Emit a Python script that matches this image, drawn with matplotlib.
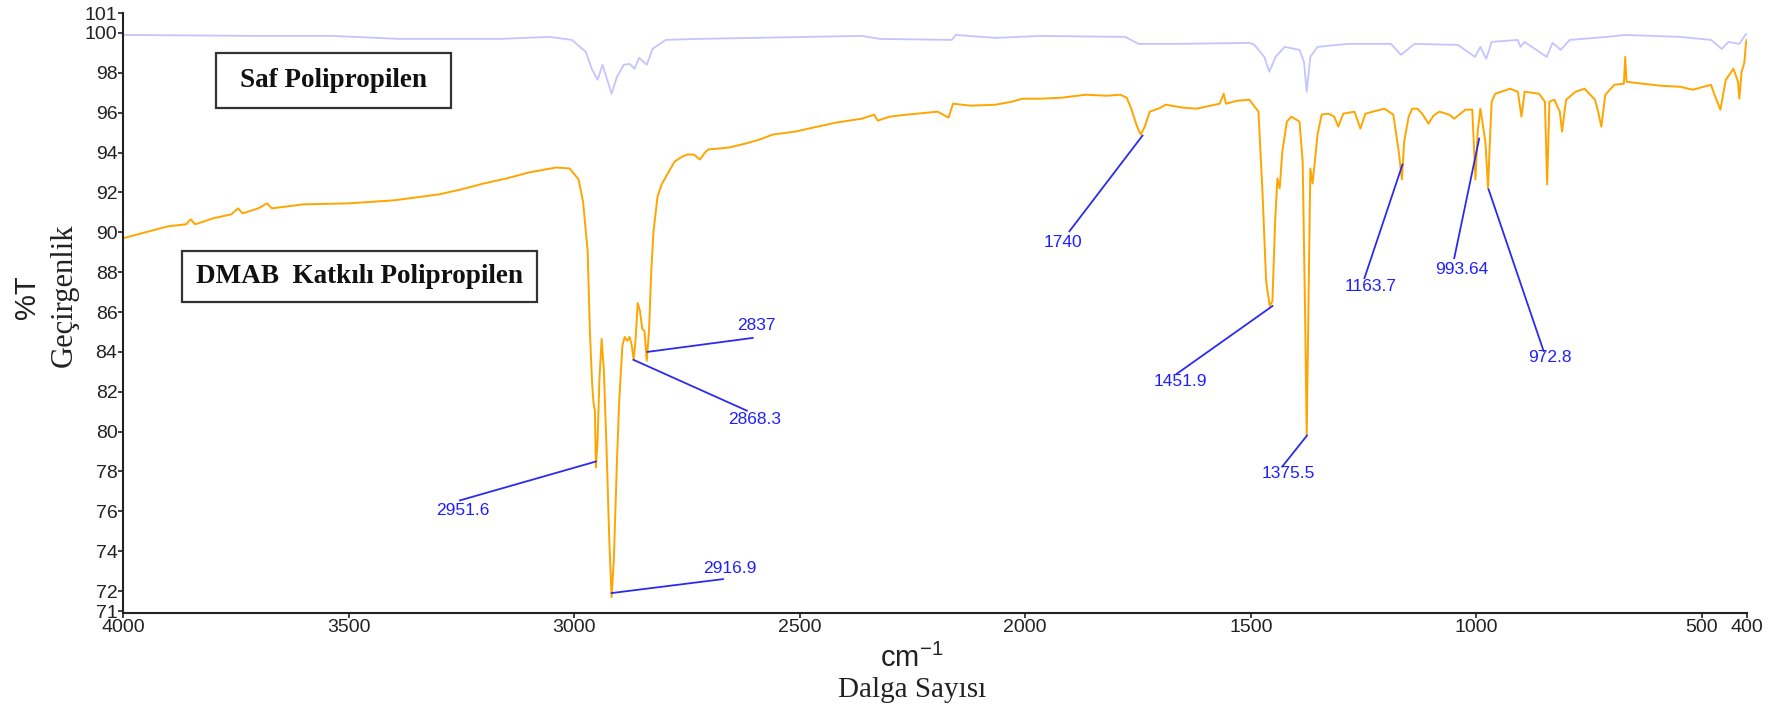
import matplotlib
matplotlib.use("Agg")
import matplotlib.pyplot as plt
from matplotlib.patches import Rectangle

# --- Saf Polipropilen (pure PP) spectrum ---
saf_wn = [4000, 3700, 3535, 3386, 3165, 3054, 3005, 2974, 2961, 2948, 2937, 2917,
          2905, 2890, 2877, 2866, 2856, 2839, 2826, 2797, 2728, 2362, 2322, 2163,
          2154, 2066, 1966, 1778, 1749, 1669, 1503, 1492, 1470, 1459, 1445, 1425,
          1392, 1382, 1376, 1368, 1352, 1286, 1189, 1167, 1137, 1041, 1003, 991,
          978, 966, 908, 902, 893, 844, 831, 813, 793, 711, 670, 548, 480, 456,
          441, 417, 402]
saf_t = [99.9, 99.85, 99.85, 99.7, 99.7, 99.8, 99.65, 99.05, 98.2, 97.65, 98.4, 96.95,
         97.8, 98.4, 98.45, 98.2, 98.75, 98.4, 99.2, 99.65, 99.7, 99.85, 99.7, 99.65,
         99.9, 99.75, 99.85, 99.8, 99.45, 99.45, 99.5, 99.4, 98.8, 98.05, 98.8, 99.3,
         99.15, 98.55, 97.05, 98.8, 99.3, 99.45, 99.45, 98.9, 99.45, 99.4, 98.8, 99.3,
         98.7, 99.55, 99.65, 99.3, 99.55, 98.8, 99.5, 99.15, 99.65, 99.8, 99.9, 99.8,
         99.65, 99.2, 99.55, 99.45, 99.95]

# --- DMAB Katkili Polipropilen spectrum ---
dmab_wn = [4000, 3950, 3900, 3860, 3850, 3840, 3800, 3760, 3745, 3735, 3700, 3681,
           3670, 3600, 3500, 3400, 3300, 3250, 3200, 3150, 3100, 3040, 3010, 2990,
           2980, 2970, 2965, 2960, 2957, 2954, 2951.6, 2948, 2944, 2939, 2934, 2928,
           2922, 2917, 2912, 2905, 2900, 2893, 2888, 2882, 2877, 2872, 2868, 2864,
           2859, 2854, 2849, 2844, 2839, 2834, 2829, 2824, 2815, 2806, 2790, 2777,
           2760, 2748, 2735, 2721, 2710, 2703, 2657, 2620, 2589, 2560, 2510, 2460,
           2420, 2362, 2335, 2327, 2300, 2263, 2194, 2170, 2160, 2120, 2066, 2030,
           2006, 1966, 1920, 1866, 1820, 1789, 1775, 1765, 1752, 1744, 1735, 1724,
           1700, 1689, 1650, 1620, 1590, 1569, 1560, 1555, 1530, 1503, 1483, 1474,
           1466, 1458, 1452, 1446, 1441, 1436, 1430, 1420, 1410, 1392, 1385, 1380,
           1376, 1372, 1368, 1363, 1352, 1343, 1328, 1315, 1306, 1295, 1270, 1257,
           1246, 1204, 1184, 1172, 1165, 1160, 1150, 1142, 1131, 1120, 1106, 1095,
           1082, 1060, 1049, 1024, 1009, 1002, 997, 991, 980, 974, 970, 966, 958,
           925, 908, 900, 893, 861, 848, 843, 838, 827, 815, 810, 801, 780, 760,
           737, 730, 723, 714, 694, 673, 670, 667, 630, 590, 548, 520, 480, 472,
           459, 447, 430, 420, 417, 412, 406, 402, 400]
dmab_t = [89.7, 90.0, 90.3, 90.4, 90.65, 90.4, 90.7, 90.9, 91.2, 90.95, 91.2, 91.45,
          91.2, 91.4, 91.45, 91.6, 91.9, 92.15, 92.45, 92.7, 93.0, 93.25, 93.2, 92.65,
          91.5, 89.05, 85.0, 82.4, 81.45, 81.05, 78.2, 79.55, 82.55, 84.65, 83.05, 79.05,
          74.55, 71.7, 73.55, 78.55, 81.55, 84.3, 84.75, 84.55, 84.75, 84.3, 83.6, 84.55,
          86.45, 86.05, 85.15, 85.05, 83.55, 85.05, 88.05, 90.05, 91.8, 92.4, 93.05, 93.55,
          93.8, 93.9, 93.9, 93.65, 94.0, 94.15, 94.25, 94.45, 94.65, 94.9, 95.05, 95.3,
          95.5, 95.7, 95.9, 95.6, 95.8, 95.9, 96.05, 95.75, 96.45, 96.35, 96.4, 96.55,
          96.7, 96.7, 96.75, 96.9, 96.85, 96.9, 96.75, 96.2, 95.3, 94.9, 95.3, 96.05,
          96.25, 96.4, 96.25, 96.2, 96.35, 96.45, 96.95, 96.45, 96.6, 96.65, 96.05, 92.0,
          87.55, 86.3, 86.55, 90.55, 92.7, 92.2, 94.05, 95.55, 95.8, 95.55, 93.55, 86.55,
          79.8, 86.55, 93.2, 92.45, 94.9, 95.9, 95.95, 95.8, 95.3, 95.95, 96.05, 95.2,
          95.95, 96.2, 95.9, 94.05, 92.65, 94.55, 95.8, 96.2, 96.2, 95.95, 95.45, 95.85,
          96.05, 95.9, 95.7, 96.15, 96.15, 92.65, 95.05, 96.2, 94.55, 92.2, 94.55, 96.55, 96.95,
          97.2, 97.05, 95.8, 97.05, 96.95, 96.55, 92.4, 96.55, 96.65, 96.05, 95.05, 96.65, 97.05, 97.2,
          96.65, 96.05, 95.3, 96.9, 97.4, 97.45, 98.8, 97.55, 97.45, 97.35, 97.3, 97.15, 97.4, 96.9,
          96.15, 97.65, 98.2, 97.55, 96.7, 98.05, 98.5, 99.55, 99.65]

# --- peak labels ---
peak_names = ["2951.6", "2916.9", "2868.3", "2837", "1740", "1451.9", "1375.5",
              "1163.7", "993.64", "972.8"]
peak_wn = [2951.6, 2916.9, 2868.3, 2837, 1740, 1451.9, 1375.5, 1163.7, 993.64, 972.8]
peak_t = [78.5, 71.9, 83.6, 84.0, 94.85, 86.3, 79.8, 93.4, 94.7, 92.15]

# leader line end points and label centres (layout)
lead_end = [(3253, 76.55), (2670, 72.6), (2617, 81.05), (2604, 84.7), (1902, 90.05),
            (1664, 82.9), (1430, 78.25), (1248, 87.7), (1049, 88.7), (851, 84.05)]
lab_pos = [(3247, 76.05), (2655, 73.15), (2600, 80.6), (2595, 85.3), (1917, 89.5),
           (1656, 82.5), (1416, 77.9), (1234, 87.3), (1033, 88.15), (838, 83.7)]

xticks = [4000, 3500, 3000, 2500, 2000, 1500, 1000, 500, 400]
yticks = [71, 72, 74, 76, 78, 80, 82, 84, 86, 88, 90, 92, 94, 96, 98, 100, 101]

sans = ["Liberation Sans", "DejaVu Sans"]
serif = ["Liberation Serif", "DejaVu Serif"]

fig = plt.figure(figsize=(17.8, 7.15), dpi=100)
ax = fig.add_axes([123/1780, 1-613/715, 1624/1780, 600/715])

ax.plot(saf_wn, saf_t, color="#c4c4ff", lw=1.3)
ax.plot(dmab_wn, dmab_t, color="#ffa500", lw=1.4)

for name, px, pt, le, lp in zip(peak_names, peak_wn, peak_t, lead_end, lab_pos):
    ax.plot([px, le[0]], [pt, le[1]], color="#2b2bf0", lw=1.3)
    ax.text(lp[0], lp[1], name, color="#2020ff", fontsize=12.5, family=sans,
            ha="center", va="center")

ax.set_xlim(4000, 400)
ax.set_ylim(70.9, 101)
ax.set_xticks(xticks)
ax.set_yticks(yticks)
ax.set_xticklabels([str(v) for v in xticks], family=sans, fontsize=14)
ax.set_yticklabels([str(v) for v in yticks], family=sans, fontsize=14)
ax.tick_params(axis="both", direction="out", length=3.5, width=1.2, pad=0.5,
               colors="#222222")
for s in ["top", "right"]:
    ax.spines[s].set_visible(False)
for s in ["left", "bottom"]:
    ax.spines[s].set_linewidth(1.5)
    ax.spines[s].set_color("#222222")

# legend boxes
boxes = [((0.0573, 0.842), 0.1448, 0.091, "Saf Polipropilen"),
         ((0.0363, 0.518), 0.2187, 0.085, "DMAB  Katkılı Polipropilen")]
for (bx, by), bw, bh, txt in boxes:
    ax.add_patch(Rectangle((bx, by), bw, bh, transform=ax.transAxes, fill=False,
                           ec="#333333", lw=1.6, zorder=5))
    ax.text(bx + bw/2, by + bh/2, txt, transform=ax.transAxes, ha="center",
            va="center", family=serif, fontweight="bold", fontsize=19.5,
            color="#111111", zorder=6)

# axis titles
fig.text(27/1780, 1-297/715, "%T", rotation=90, ha="center", va="center",
         family=sans, fontsize=21, color="#222222")
fig.text(64/1780, 1-295/715, "Geçirgenlik", rotation=90, ha="center", va="center",
         family=serif, fontsize=22, color="#222222")
fig.text(912/1780, 1-658/715, "cm$^{\\mathregular{-1}}$", ha="center", va="center",
         family=sans, fontsize=21, color="#222222")
fig.text(912/1780, 1-690/715, "Dalga Sayısı", ha="center", va="center",
         family=serif, fontsize=21, color="#222222")

fig.savefig("out.png", dpi=100)
